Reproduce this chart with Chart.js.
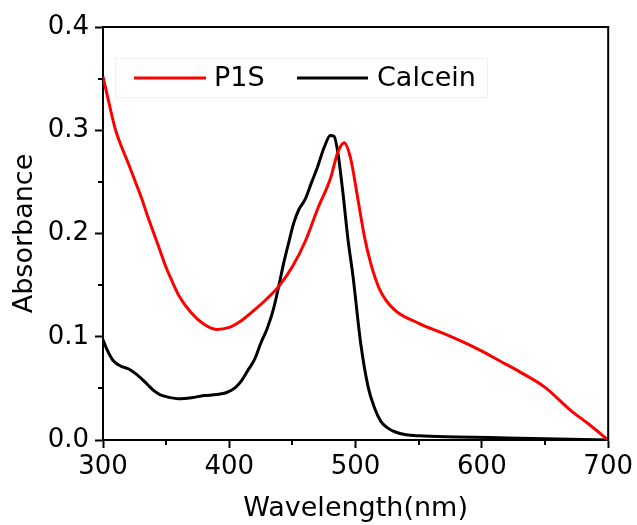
<!DOCTYPE html>
<html>
<head>
<meta charset="utf-8">
<script src="https://cdn.jsdelivr.net/npm/chart.js@4.4.1/dist/chart.umd.min.js"></script>
<style>
  html, body { margin: 0; padding: 0; background: #fff; }
  #wrap { width: 637px; height: 525px; }
</style>
</head>
<body>
<div id="wrap"><canvas id="graf" width="637" height="525"></canvas></div>
<script>
// valores
const seriesNames = ['P1S', 'Calcein'];
const seriesColors = ['#ff0000', '#000000'];

const p1sWavelength = [300, 305, 310, 315, 320, 325, 330, 335, 340, 345, 350, 355, 360, 370, 380, 390, 400, 410, 420, 430, 440, 450, 460, 470, 480, 486, 491, 496, 502, 507, 512, 519, 530, 550, 570, 585, 600, 615, 630, 650, 670, 685, 700];
const p1sAbs = [0.352, 0.325, 0.300, 0.283, 0.268, 0.252, 0.236, 0.218, 0.201, 0.184, 0.167, 0.153, 0.140, 0.123, 0.112, 0.107, 0.109, 0.116, 0.126, 0.137, 0.150, 0.168, 0.192, 0.224, 0.253, 0.279, 0.288, 0.273, 0.232, 0.197, 0.171, 0.146, 0.127, 0.113, 0.103, 0.095, 0.086, 0.076, 0.066, 0.051, 0.029, 0.015, 0.000];

const calceinWavelength = [300, 303, 308, 315, 320, 325, 330, 335, 340, 345, 350, 360, 370, 380, 390, 398, 405, 410, 415, 420, 425, 430, 435, 439, 443, 447, 451, 455, 460, 465, 470, 475, 480, 483, 486, 490, 494, 498, 504, 510, 515, 520, 525, 531, 540, 550, 580, 620, 660, 700];
const calceinAbs = [0.097, 0.088, 0.077, 0.071, 0.069, 0.065, 0.060, 0.054, 0.048, 0.044, 0.042, 0.040, 0.041, 0.043, 0.044, 0.046, 0.051, 0.058, 0.068, 0.078, 0.094, 0.108, 0.127, 0.148, 0.171, 0.191, 0.210, 0.223, 0.233, 0.249, 0.265, 0.283, 0.295, 0.294, 0.278, 0.239, 0.194, 0.158, 0.094, 0.051, 0.031, 0.018, 0.012, 0.008, 0.005, 0.004, 0.003, 0.002, 0.001, 0.000];

const xTicks = [300, 400, 500, 600, 700];
const xMinorTicks = [350, 450, 550, 650];
const yTicks = [0.0, 0.1, 0.2, 0.3, 0.4];
const yMinorTicks = [0.05, 0.15, 0.25, 0.35];

const fonte = 'DejaVu Sans';

function pontos(xs, ys) {
    return xs.map((x, i) => ({x: x, y: ys[i]}));
}

// moldura, ticks menores e legenda
const extras = {
    id: 'extras',
    afterDraw(chart) {
        const ctx = chart.ctx;
        const a = chart.chartArea;
        const sx = chart.scales.x;
        const sy = chart.scales.y;
        ctx.save();
        ctx.strokeStyle = '#000';
        ctx.lineWidth = 2;
        ctx.beginPath();
        ctx.moveTo(a.left, a.top);
        ctx.lineTo(a.right, a.top);
        ctx.lineTo(a.right, a.bottom);
        ctx.stroke();

        xMinorTicks.forEach(v => {
            const px = Math.round(sx.getPixelForValue(v));
            ctx.beginPath();
            ctx.moveTo(px, a.bottom);
            ctx.lineTo(px, a.bottom + 5);
            ctx.stroke();
        });
        yMinorTicks.forEach(v => {
            const py = Math.round(sy.getPixelForValue(v));
            ctx.beginPath();
            ctx.moveTo(a.left, py);
            ctx.lineTo(a.left - 5, py);
            ctx.stroke();
        });

        // legenda
        ctx.fillStyle = '#fff';
        ctx.fillRect(115, 58, 372, 39);
        ctx.strokeStyle = '#f0f0f0';
        ctx.lineWidth = 1;
        ctx.strokeRect(115.5, 58.5, 372, 39);
        ctx.font = '27px "' + fonte + '"';
        ctx.textBaseline = 'middle';
        ctx.textAlign = 'left';
        const itens = [
            {x1: 134, x2: 206, tx: 214},
            {x1: 297, x2: 368, tx: 377}
        ];
        itens.forEach((it, i) => {
            const ds = chart.data.datasets[i];
            ctx.strokeStyle = ds.borderColor;
            ctx.lineWidth = 3;
            ctx.beginPath();
            ctx.moveTo(it.x1, 78);
            ctx.lineTo(it.x2, 78);
            ctx.stroke();
            ctx.fillStyle = '#000';
            ctx.fillText(ds.label, it.tx, 79);
        });
        ctx.restore();
    }
};

const ctx = document.getElementById('graf').getContext('2d');

const data = {
    datasets: [
        {
            label: seriesNames[0],
            data: pontos(p1sWavelength, p1sAbs),
            borderColor: seriesColors[0],
            borderWidth: 3,
            pointRadius: 0,
            fill: false,
            cubicInterpolationMode: 'monotone'
        },
        {
            label: seriesNames[1],
            data: pontos(calceinWavelength, calceinAbs),
            borderColor: seriesColors[1],
            borderWidth: 3,
            pointRadius: 0,
            fill: false,
            cubicInterpolationMode: 'monotone'
        }
    ]
};

const config = {
    type: 'line',
    data: data,
    plugins: [extras],
    options: {
        responsive: false,
        animation: false,
        layout: {
            padding: {top: 27, right: 25, left: 9, bottom: 0}
        },
        plugins: {
            legend: {display: false},
            tooltip: {enabled: false}
        },
        scales: {
            x: {
                type: 'linear',
                min: 300,
                max: 700,
                afterFit: function (scale) { scale.height = 85; },
                afterBuildTicks: function (scale) {
                    scale.ticks = xTicks.map(v => ({value: v}));
                },
                border: {color: '#000', width: 2},
                grid: {
                    drawOnChartArea: false,
                    drawTicks: true,
                    tickLength: 8,
                    tickColor: '#000',
                    tickWidth: 2
                },
                ticks: {
                    color: '#000',
                    font: {family: fonte, size: 26},
                    padding: 4,
                    maxRotation: 0,
                    callback: v => v.toString()
                },
                title: {
                    display: true,
                    text: 'Wavelength(nm)',
                    color: '#000',
                    font: {family: fonte, size: 27},
                    padding: {top: 2, bottom: 0}
                }
            },
            y: {
                type: 'linear',
                min: 0,
                max: 0.4,
                afterFit: function (scale) { scale.width = 94; },
                afterBuildTicks: function (scale) {
                    scale.ticks = yTicks.map(v => ({value: v}));
                },
                border: {color: '#000', width: 2},
                grid: {
                    drawOnChartArea: false,
                    drawTicks: true,
                    tickLength: 8,
                    tickColor: '#000',
                    tickWidth: 2
                },
                ticks: {
                    color: '#000',
                    font: {family: fonte, size: 26},
                    padding: 6,
                    callback: v => v.toFixed(1)
                },
                title: {
                    display: true,
                    text: 'Absorbance',
                    color: '#000',
                    font: {family: fonte, size: 27},
                    padding: {top: 0, bottom: 0}
                }
            }
        }
    }
};

new Chart(ctx, config);
</script>
</body>
</html>
